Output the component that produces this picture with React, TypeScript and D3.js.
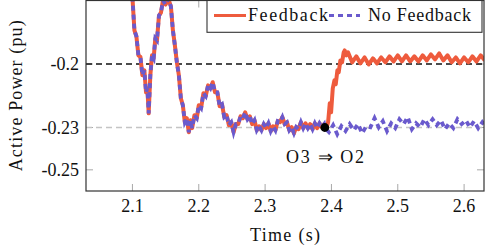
import React from 'react';
import * as d3 from 'd3';

// ---- data ----
const sharedT = [
  2.095, 2.1, 2.103, 2.106, 2.109, 2.112, 2.115, 2.118, 2.1205, 2.1225, 2.1245, 2.127, 2.1295, 2.132,
  2.1345, 2.137, 2.14, 2.143, 2.146, 2.15, 2.154, 2.158, 2.161, 2.164, 2.167, 2.17, 2.173, 2.176,
  2.179, 2.182, 2.185, 2.1875, 2.19, 2.1935, 2.197, 2.2, 2.2035, 2.207, 2.2105, 2.214, 2.2175, 2.221,
  2.2245, 2.228, 2.2315, 2.235, 2.2385, 2.242, 2.2455, 2.249, 2.2525, 2.256, 2.2595, 2.263, 2.2665,
  2.27, 2.2735, 2.277, 2.2805, 2.284, 2.2875, 2.291, 2.2945, 2.298, 2.3015, 2.305, 2.3085, 2.312,
  2.3155, 2.319, 2.3225, 2.326, 2.3295, 2.333, 2.3365, 2.34, 2.3435, 2.347, 2.3505, 2.354, 2.3575,
  2.361, 2.3645, 2.368, 2.3715, 2.375, 2.3785, 2.382, 2.3855, 2.389,
];
const sharedV = [
  -0.1512, -0.1686, -0.1841, -0.187, -0.1959, -0.1966, -0.2053, -0.203, -0.2134, -0.2115, -0.2233,
  -0.2053, -0.1959, -0.1973, -0.1879, -0.1889, -0.1771, -0.1757, -0.17, -0.1719, -0.1691, -0.1728,
  -0.1841, -0.1912, -0.1992, -0.2053, -0.2162, -0.2195, -0.2275, -0.2256, -0.2322, -0.2266, -0.2303,
  -0.2242, -0.2256, -0.2195, -0.2209, -0.2138, -0.2152, -0.2101, -0.2115, -0.2086, -0.2134, -0.2134,
  -0.2199, -0.219, -0.2251, -0.2242, -0.2289, -0.2275, -0.2322, -0.2284, -0.2284, -0.2247, -0.2256,
  -0.2228, -0.2261, -0.2247, -0.2284, -0.2266, -0.2313, -0.2294, -0.2313, -0.2284, -0.2303, -0.228,
  -0.2317, -0.2294, -0.2313, -0.227, -0.2275, -0.2251, -0.2284, -0.2275, -0.2313, -0.2298, -0.2327,
  -0.2298, -0.2308, -0.2275, -0.2303, -0.228, -0.2303, -0.2284, -0.2308, -0.228, -0.2303, -0.228,
  -0.2299, -0.2284,
];
const feedbackT = [
  2.39, 2.3925, 2.395, 2.3975, 2.3995, 2.402, 2.4045, 2.4065, 2.409, 2.411, 2.4135, 2.416, 2.4185,
  2.42, 2.4225, 2.425, 2.43125, 2.4375, 2.44375, 2.45, 2.45625, 2.4625, 2.46875, 2.475, 2.48125,
  2.4875, 2.49375, 2.5, 2.50625, 2.5125, 2.51875, 2.525, 2.53125, 2.5375, 2.54375, 2.55, 2.55625,
  2.5625, 2.56875, 2.575, 2.58125, 2.5875, 2.59375, 2.6, 2.60625, 2.6125, 2.61875, 2.625, 2.63125,
];
const feedbackV = [
  -0.23, -0.2303, -0.2275, -0.2185, -0.2228, -0.2115, -0.2077, -0.2096, -0.203, -0.2039, -0.1983,
  -0.1992, -0.1945, -0.1936, -0.1959, -0.1945, -0.1992, -0.1964, -0.1997, -0.1969, -0.2002, -0.1973,
  -0.1997, -0.1969, -0.1992, -0.1964, -0.1988, -0.1959, -0.1988, -0.1959, -0.1988, -0.1964, -0.1988,
  -0.1959, -0.1983, -0.1955, -0.1978, -0.195, -0.1983, -0.1959, -0.1992, -0.1969, -0.1997, -0.1969,
  -0.1992, -0.1964, -0.1988, -0.1959, -0.1983,
];
const noFeedbackT = [
  2.39, 2.39625, 2.4025, 2.40875, 2.415, 2.42125, 2.4275, 2.43375, 2.44, 2.44625, 2.4525, 2.45875,
  2.465, 2.47125, 2.4775, 2.48375, 2.49, 2.49625, 2.5025, 2.50875, 2.515, 2.52125, 2.5275, 2.53375,
  2.54, 2.54625, 2.5525, 2.55875, 2.565, 2.57125, 2.5775, 2.58375, 2.59, 2.59625, 2.6025, 2.60875,
  2.615, 2.62125, 2.6275, 2.63375,
];
const noFeedbackV = [
  -0.23, -0.2322, -0.2289, -0.2332, -0.2294, -0.2317, -0.2284, -0.2313, -0.2284, -0.2327, -0.2294,
  -0.2299, -0.2256, -0.2299, -0.227, -0.2317, -0.228, -0.2303, -0.2261, -0.2284, -0.2251, -0.2308,
  -0.228, -0.2299, -0.2261, -0.2289, -0.2261, -0.2289, -0.2266, -0.2308, -0.228, -0.2303, -0.2261,
  -0.2284, -0.2266, -0.2299, -0.227, -0.2303, -0.2275, -0.2299,
];
const xTicks = [2.1, 2.2, 2.3, 2.4, 2.5, 2.6];
const xTickLabels = ['2.1', '2.2', '2.3', '2.4', '2.5', '2.6'];
const yTicks = [-0.2, -0.23, -0.25];
const yTickLabels = ['-0.2', '-0.23', '-0.25'];
const referenceLevels = [-0.2, -0.23];
const switchPoint = { t: 2.39, v: -0.23 };
const seriesNames = ['Feedback', 'No Feedback'];
const annotationText = 'O3 \u21D2 O2';
const xLabel = 'Time (s)';
const yLabel = 'Active Power (pu)';

const W = 485;
const H = 250;
const M = { left: 86, right: 484, top: 0.5, bottom: 191 };
const RED = '#EE5B3D';
const PURPLE = '#6A5ACD';
const TXT: React.CSSProperties = { fontFamily: 'Liberation Serif', fontSize: '18px' };

export default function App() {
  const x = d3.scaleLinear().domain([2.03, 2.63]).range([M.left, M.right]);
  const y = d3.scaleLinear().domain([-0.26, -0.17]).range([M.bottom, M.top]);

  const shared = sharedT.map((t, i) => [t, sharedV[i]] as [number, number]);
  const fb = shared.concat(feedbackT.map((t, i) => [t, feedbackV[i]] as [number, number]));
  const nfb = shared.concat(noFeedbackT.map((t, i) => [t, noFeedbackV[i]] as [number, number]));

  const line = d3.line<[number, number]>()
    .x((d) => x(d[0]))
    .y((d) => y(d[1]))
    .curve(d3.curveLinear);

  const tickLen = 7;
  const tickColor = '#a8a8a8';

  return (
    <svg width={W} height={H} style={{ position: 'absolute', left: 0, top: 0, background: '#fff' }}>
      <defs>
        <clipPath id="plotclip">
          <rect x={M.left} y={M.top - 1} width={M.right - M.left} height={M.bottom - M.top + 1} />
        </clipPath>
      </defs>
      <rect x={0} y={0} width={W} height={H} fill="#fff" />

      {/* ticks */}
      {xTicks.map((t) => (
        <g key={'xt' + t}>
          <line x1={x(t)} x2={x(t)} y1={M.bottom} y2={M.bottom - tickLen} stroke={tickColor} strokeWidth={1} />
          <line x1={x(t)} x2={x(t)} y1={M.top} y2={M.top + tickLen} stroke={tickColor} strokeWidth={1} />
        </g>
      ))}
      {yTicks.map((v) => (
        <g key={'yt' + v}>
          <line x1={M.left} x2={M.left + tickLen} y1={y(v)} y2={y(v)} stroke={tickColor} strokeWidth={1} />
          <line x1={M.right} x2={M.right - tickLen} y1={y(v)} y2={y(v)} stroke={tickColor} strokeWidth={1} />
        </g>
      ))}

      <g clipPath="url(#plotclip)">
        {/* reference levels */}
        <line x1={M.left} x2={M.right} y1={y(referenceLevels[1])} y2={y(referenceLevels[1])}
          stroke="#c4c4c4" strokeWidth={1.6} strokeDasharray="6 4" />
        <line x1={M.left} x2={M.right} y1={y(referenceLevels[0])} y2={y(referenceLevels[0])}
          stroke="#111" strokeWidth={1.6} strokeDasharray="6 4" />
        <path d={line(fb) || ''} fill="none" stroke={RED} strokeWidth={4} strokeLinejoin="round" />
        <path d={line(nfb) || ''} fill="none" stroke={PURPLE} strokeWidth={3.8} strokeDasharray="5 4" />
        <circle cx={x(switchPoint.t)} cy={y(switchPoint.v)} r={4.4} fill="#000" />
      </g>

      {/* frame */}
      <rect x={M.left} y={M.top} width={M.right - M.left} height={M.bottom - M.top}
        fill="none" stroke="#333" strokeWidth={1.2} />

      {/* tick labels */}
      {xTicks.map((t, i) => (
        <text key={'xl' + t} x={x(t)} y={211.5} textAnchor="middle" style={TXT} fill="#111">
          {xTickLabels[i]}
        </text>
      ))}
      {yTicks.map((v, i) => (
        <text key={'yl' + v} x={79} y={y(v)} dy="0.35em" textAnchor="end" style={TXT} fill="#111">
          {yTickLabels[i]}
        </text>
      ))}

      {/* axis labels */}
      <text x={(M.left + M.right) / 2} y={240.5} textAnchor="middle" style={TXT} fill="#111"
        textLength={70} lengthAdjust="spacing">{xLabel}</text>
      <text transform={`translate(21.5, ${(M.top + M.bottom) / 2}) rotate(-90)`} textAnchor="middle"
        style={TXT} fill="#111" textLength={151} lengthAdjust="spacing">{yLabel}</text>

      {/* annotation */}
      <text x={325} y={163.3} textAnchor="middle" style={TXT} fill="#111"
        textLength={78} lengthAdjust="spacing">{annotationText}</text>

      {/* legend */}
      <g>
        <rect x={207} y={0.5} width={275} height={31.8} fill="#fff" stroke="#333" strokeWidth={1.1} />
        <line x1={214} x2={246} y1={15.5} y2={15.5} stroke={RED} strokeWidth={3} />
        <text x={248} y={20.5} style={TXT} fill="#111" textLength={80} lengthAdjust="spacing">{seriesNames[0]}</text>
        <line x1={329} x2={360} y1={15.5} y2={15.5} stroke={PURPLE} strokeWidth={3} strokeDasharray="5 4" />
        <text x={368} y={20.5} style={TXT} fill="#111" textLength={103} lengthAdjust="spacing">{seriesNames[1]}</text>
      </g>
    </svg>
  );
}
